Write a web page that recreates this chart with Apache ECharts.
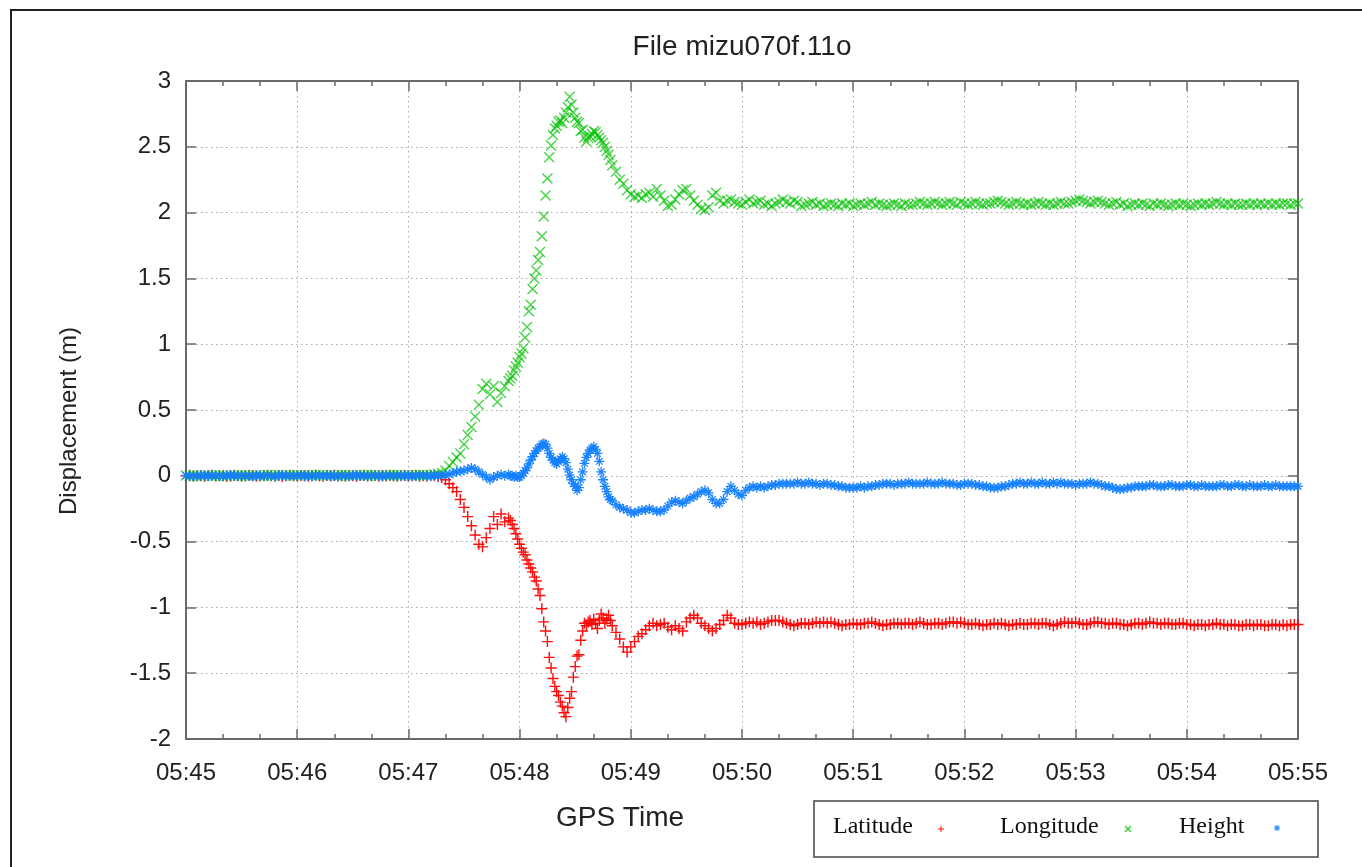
<!DOCTYPE html>
<html><head><meta charset="utf-8">
<script src="https://cdn.jsdelivr.net/npm/echarts@6/dist/echarts.min.js"></script>
<style>html,body{margin:0;padding:0;background:#fff}#c{width:1362px;height:867px}</style>
</head><body><div id="c"></div>
<script>
// sample times, seconds after 05:45:00
const seconds = [
0,2,4,6,8,10,12,14,16,18,
20,22,24,26,28,30,32,34,36,38,
40,42,44,46,48,50,52,54,56,58,
60,62,64,66,68,70,72,74,76,78,
80,82,84,86,88,90,92,94,96,98,
100,102,104,106,108,110,112,114,116,118,
120,122,124,126,128,130,132,134,136,138,
140,142,144,146,148,150,152,154,156,158,
160,162,164,166,168,170,172,174,
175,176,177,178,179,180,181,182,183,184,
185,186,187,188,189,190,191,192,193,194,
195,196,197,198,199,200,201,202,203,204,
205,206,207,208,209,210,211,212,213,214,
215,216,217,218,219,220,221,222,223,224,
225,226,227,228,229,230,
232,234,236,
238,240,242,244,246,248,250,252,254,256,
258,260,262,264,266,268,270,272,274,276,
278,280,282,284,286,288,290,292,294,296,
298,300,302,304,306,308,310,312,314,316,
318,320,322,324,326,328,330,332,334,336,
338,340,342,344,346,348,350,352,354,356,
358,360,362,364,366,368,370,372,374,376,
378,380,382,384,386,388,390,392,394,396,
398,400,402,404,406,408,410,412,414,416,
418,420,422,424,426,428,430,432,434,436,
438,440,442,444,446,448,450,452,454,456,
458,460,462,464,466,468,470,472,474,476,
478,480,482,484,486,488,490,492,494,496,
498,500,502,504,506,508,510,512,514,516,
518,520,522,524,526,528,530,532,534,536,
538,540,542,544,546,548,550,552,554,556,
558,560,562,564,566,568,570,572,574,576,
578,580,582,584,586,588,590,592,594,596,
598,600];

const latitude = [
0,0.004,-0.003,0.002,0,-0.004,0.003,0.005,-0.002,0,
0.003,-0.005,-0.002,0.004,0.001,-0.003,0,0.004,0.002,-0.004,
-0.001,0.003,0.005,0,-0.003,0.002,-0.005,0.001,0.004,0,
-0.002,0.003,0,-0.004,0.002,0.005,-0.001,-0.003,0.002,0,
0.004,-0.002,0.001,-0.004,0.003,0,-0.003,0.002,0.004,-0.001,
0,0.003,-0.004,0.002,-0.002,0.004,0,-0.003,0.001,0.003,
-0.002,0,0.004,-0.003,0.001,-0.004,0.002,0,
-0.005,-0.012,-0.03,-0.06,-0.09,-0.12,-0.18,-0.24,-0.31,-0.38,
-0.45,-0.52,-0.54,-0.47,-0.40,-0.31,-0.37,-0.29,-0.35,-0.32,
-0.34,-0.37,-0.40,-0.44,-0.48,-0.52,-0.55,-0.58,-0.60,-0.64,
-0.67,-0.70,-0.73,-0.77,-0.80,-0.86,-0.91,-1.01,-1.11,-1.18,
-1.26,-1.38,-1.46,-1.54,-1.60,-1.64,-1.67,-1.72,-1.75,-1.80,
-1.83,-1.76,-1.69,-1.64,-1.53,-1.45,-1.37,-1.36,-1.25,-1.18,
-1.12,-1.14,-1.11,-1.10,-1.13,-1.09,-1.12,-1.16,-1.10,-1.05,
-1.08,-1.12,-1.09,-1.06,-1.10,-1.14,
-1.19,-1.24,-1.30,
-1.34,-1.30,-1.26,-1.22,-1.20,-1.17,-1.14,-1.12,-1.14,-1.13,
-1.12,-1.15,-1.17,-1.14,-1.16,-1.18,-1.11,-1.08,-1.06,-1.08,
-1.12,-1.14,-1.16,-1.18,-1.16,-1.13,-1.10,-1.06,-1.08,-1.12,
-1.13,-1.13,-1.12,-1.11,-1.12,-1.11,-1.13,-1.12,-1.11,-1.10,
-1.10,-1.10,-1.11,-1.12,-1.13,-1.14,-1.13,-1.12,-1.12,-1.13,
-1.12,-1.11,-1.12,-1.11,-1.12,-1.11,-1.12,-1.13,-1.14,-1.13,
-1.13,-1.12,-1.13,-1.13,-1.12,-1.12,-1.11,-1.12,-1.13,-1.14,
-1.13,-1.13,-1.12,-1.12,-1.13,-1.12,-1.12,-1.13,-1.12,-1.11,
-1.12,-1.13,-1.13,-1.12,-1.12,-1.13,-1.12,-1.11,-1.11,-1.12,
-1.11,-1.12,-1.13,-1.13,-1.12,-1.13,-1.14,-1.13,-1.13,-1.12,
-1.13,-1.12,-1.13,-1.14,-1.13,-1.13,-1.12,-1.13,-1.13,-1.12,
-1.12,-1.13,-1.12,-1.12,-1.13,-1.14,-1.13,-1.12,-1.11,-1.12,
-1.12,-1.11,-1.12,-1.13,-1.13,-1.12,-1.11,-1.11,-1.12,-1.12,
-1.13,-1.12,-1.12,-1.13,-1.13,-1.14,-1.13,-1.12,-1.12,-1.13,
-1.12,-1.11,-1.12,-1.12,-1.13,-1.12,-1.12,-1.13,-1.13,-1.12,
-1.12,-1.13,-1.13,-1.14,-1.13,-1.13,-1.14,-1.13,-1.13,-1.12,
-1.13,-1.13,-1.14,-1.13,-1.13,-1.14,-1.14,-1.13,-1.13,-1.14,
-1.13,-1.13,-1.14,-1.14,-1.13,-1.13,-1.14,-1.13,-1.14,-1.13,
-1.13,-1.13];

const longitude = [
0.002,0,0.003,0.001,-0.002,0.002,0.004,0,0.001,0.003,
0.002,-0.001,0.003,0.004,0.002,0,0.003,0.005,0.002,0.004,
0.003,0.001,0.005,0.003,0.004,0.006,0.002,0.004,0.005,0.003,
0.005,0.004,0.006,0.003,0.005,0.004,0.006,0.005,0.003,0.004,
0.005,0.003,0.006,0.004,0.005,0.003,0.004,0.006,0.004,0.003,
0.005,0.004,0.003,0.005,0.004,0.006,0.005,0.004,0.003,0.005,
0.004,0.003,0.005,0.004,0.006,0.005,
0.006,0.01,0.015,0.022,0.04,0.075,0.105,0.14,0.17,0.24,
0.31,0.37,0.45,0.54,0.66,0.70,0.62,0.68,0.56,0.63,
0.68,0.72,
0.74,0.76,0.80,0.83,0.86,0.90,0.93,0.97,1.05,1.13,
1.25,1.30,1.42,1.50,1.56,1.64,1.70,1.82,1.97,2.13,
2.26,2.42,2.51,2.59,2.64,2.66,2.69,2.70,2.68,2.72,
2.76,2.80,2.88,2.82,2.76,2.72,2.69,2.68,2.62,2.63,
2.57,2.54,2.57,2.58,2.60,2.62,2.61,2.59,2.57,2.55,
2.53,2.50,2.47,2.44,2.40,2.36,
2.31,2.25,2.22,
2.17,2.14,2.12,2.13,2.11,2.14,2.15,2.12,2.18,2.13,
2.09,2.05,2.06,2.10,2.14,2.17,2.18,2.13,2.09,2.06,
2.03,2.02,2.04,2.13,2.15,2.09,2.07,2.09,2.10,2.08,
2.07,2.06,2.08,2.10,2.07,2.08,2.09,2.06,2.07,2.05,
2.07,2.08,2.10,2.08,2.07,2.09,2.08,2.05,2.06,2.07,
2.08,2.06,2.07,2.05,2.06,2.07,2.06,2.05,2.07,2.06,
2.07,2.05,2.06,2.07,2.06,2.07,2.08,2.06,2.07,2.06,
2.05,2.06,2.07,2.06,2.05,2.07,2.06,2.06,2.07,2.08,
2.07,2.06,2.07,2.08,2.07,2.06,2.07,2.08,2.07,2.06,
2.08,2.07,2.06,2.07,2.08,2.07,2.06,2.07,2.07,2.08,
2.09,2.08,2.07,2.06,2.07,2.08,2.07,2.06,2.07,2.06,
2.07,2.08,2.07,2.06,2.07,2.06,2.07,2.08,2.07,2.07,
2.08,2.09,2.10,2.09,2.08,2.07,2.08,2.09,2.08,2.07,
2.06,2.07,2.08,2.06,2.07,2.05,2.06,2.07,2.06,2.07,
2.06,2.05,2.07,2.06,2.07,2.06,2.05,2.06,2.07,2.06,
2.07,2.06,2.05,2.06,2.07,2.06,2.07,2.06,2.07,2.08,
2.07,2.06,2.07,2.06,2.07,2.06,2.06,2.07,2.06,2.07,
2.06,2.07,2.06,2.07,2.06,2.07,2.06,2.07,2.07,2.06,
2.07,2.07];

const height = [
0.003,-0.004,0.002,-0.006,0.004,0.001,-0.003,0.005,-0.002,0.002,
-0.005,0.003,0.006,-0.002,0,0.004,-0.004,0.002,-0.006,0.003,
0.001,-0.003,0.005,-0.001,-0.005,0.002,0.004,-0.002,0.003,-0.004,
0,0.005,-0.003,0.002,-0.005,0.003,0.001,-0.002,0.004,-0.003,
0.002,-0.006,0.004,0,-0.004,0.003,0.005,-0.002,0.001,-0.003,
0.004,-0.001,0.002,-0.005,0.003,0,-0.003,0.004,0.002,-0.002,
0.003,-0.004,0.001,0.004,-0.002,0.002,-0.003,0.003,0.001,0.004,0.006,
0.01,0.02,0.03,0.035,0.04,0.05,0.06,0.05,0.03,0.01,
-0.01,-0.03,-0.01,0.00,0.01,0.00,0.01,
0.00,0.00,-0.01,0.00,-0.01,-0.01,0.00,0.02,0.04,0.06,
0.09,0.12,0.145,0.17,0.19,0.21,0.22,0.24,0.245,0.24,
0.21,0.17,0.14,0.12,0.10,0.09,0.11,0.13,0.145,0.13,
0.10,0.05,0.005,-0.03,-0.06,-0.08,-0.11,-0.09,-0.03,0.03,
0.095,0.14,0.17,0.196,0.21,0.22,0.20,0.17,0.11,0.03,
-0.03,-0.08,-0.12,-0.16,-0.18,-0.19,
-0.22,-0.24,-0.25,
-0.26,-0.28,-0.28,-0.27,-0.26,-0.26,-0.25,-0.26,-0.27,-0.27,
-0.26,-0.23,-0.20,-0.19,-0.20,-0.21,-0.19,-0.17,-0.16,-0.14,
-0.12,-0.11,-0.13,-0.18,-0.21,-0.21,-0.18,-0.12,-0.08,-0.11,
-0.14,-0.15,-0.11,-0.09,-0.08,-0.09,-0.08,-0.09,-0.08,-0.07,
-0.07,-0.06,-0.06,-0.06,-0.06,-0.06,-0.05,-0.06,-0.06,-0.05,
-0.06,-0.06,-0.07,-0.06,-0.06,-0.07,-0.07,-0.08,-0.08,-0.09,
-0.09,-0.09,-0.09,-0.08,-0.09,-0.08,-0.08,-0.07,-0.07,-0.06,
-0.06,-0.06,-0.07,-0.06,-0.06,-0.06,-0.05,-0.06,-0.06,-0.06,
-0.06,-0.05,-0.06,-0.06,-0.06,-0.05,-0.06,-0.06,-0.06,-0.07,
-0.07,-0.06,-0.06,-0.06,-0.07,-0.07,-0.08,-0.08,-0.09,-0.09,
-0.09,-0.08,-0.08,-0.07,-0.06,-0.06,-0.05,-0.06,-0.06,-0.05,
-0.06,-0.06,-0.05,-0.06,-0.06,-0.05,-0.06,-0.05,-0.06,-0.06,
-0.06,-0.07,-0.06,-0.06,-0.06,-0.05,-0.06,-0.06,-0.07,-0.08,
-0.08,-0.09,-0.10,-0.10,-0.10,-0.09,-0.09,-0.08,-0.08,-0.08,
-0.08,-0.07,-0.07,-0.08,-0.08,-0.08,-0.07,-0.07,-0.08,-0.08,
-0.08,-0.07,-0.07,-0.08,-0.08,-0.07,-0.08,-0.08,-0.08,-0.08,
-0.07,-0.07,-0.08,-0.08,-0.07,-0.07,-0.08,-0.08,-0.07,-0.08,
-0.08,-0.08,-0.07,-0.08,-0.08,-0.07,-0.08,-0.08,-0.08,-0.08,
-0.08,-0.08];

const xTickLabels = ['05:45','05:46','05:47','05:48','05:49','05:50','05:51','05:52','05:53','05:54','05:55'];
const seriesNames = ['Latitude','Longitude','Height'];
const seriesColors = ['#ff0000','#00c000','#1480ff'];

if (latitude.length !== seconds.length || longitude.length !== seconds.length || height.length !== seconds.length) {
  console.error('length mismatch', seconds.length, latitude.length, longitude.length, height.length);
}

const PLUS = 'M4.35,0H5.65V10H4.35Z M0,4.35H10V5.65H0Z';
const CROSS = 'M0,0.92L0.92,0L10,9.08L9.08,10Z M9.08,0L10,0.92L0.92,10L0,9.08Z';
const STAR = 'M4.35,0H5.65V10H4.35Z M0,4.35H10V5.65H0Z M1.2,2.1L2.1,1.2L8.8,7.9L7.9,8.8Z M7.9,1.2L8.8,2.1L2.1,8.8L1.2,7.9Z';
const symbols = [PLUS, CROSS, STAR];
const symbolSizes = [11, 11, 10];

const pair = arr => seconds.map((t, i) => [t, arr[i]]);

const chart = echarts.init(document.getElementById('c'), null, {renderer: 'canvas'});
const sansFont = '"Liberation Sans", Arial, Helvetica, sans-serif';
const serifFont = '"Liberation Serif", "Times New Roman", serif';
const axisColor = '#6a6a6a';

const frameX = {
  type: 'value', min: 0, max: 600, interval: 60,
  axisLine: {show: true, onZero: false, lineStyle: {color: axisColor, width: 2}},
  axisTick: {show: true, inside: true, length: 10, lineStyle: {color: axisColor, width: 1.5}},
  minorTick: {show: true, splitNumber: 3, length: 5, lineStyle: {color: axisColor, width: 1.5}},
};
const frameY = {
  type: 'value', min: -2, max: 3, interval: 0.5,
  axisLine: {show: true, onZero: false, lineStyle: {color: axisColor, width: 2}},
  axisTick: {show: true, inside: true, length: 10, lineStyle: {color: axisColor, width: 1.5}},
};

// small legend marks, built from short line segments
function legendMark(cx, cy, kind, color) {
  const r = 3;
  const segs = [];
  if (kind === 0 || kind === 2) {
    segs.push([cx - r, cy, cx + r, cy], [cx, cy - r, cx, cy + r]);
  }
  if (kind === 1 || kind === 2) {
    const d = kind === 2 ? 2.3 : r;
    segs.push([cx - d, cy - d, cx + d, cy + d], [cx - d, cy + d, cx + d, cy - d]);
  }
  return {
    type: 'group', silent: true,
    children: segs.map(s => ({
      type: 'line', silent: true,
      shape: {x1: s[0], y1: s[1], x2: s[2], y2: s[3]},
      style: {stroke: color, lineWidth: 1.2, opacity: 0.8}
    }))
  };
}

const option = {
  animation: false,
  backgroundColor: '#ffffff',
  grid: {left: 186, top: 81, width: 1112, height: 658, containLabel: false},
  xAxis: [
    Object.assign({}, frameX, {
      position: 'bottom',
      axisLabel: {show: true, margin: 22, color: '#222', fontSize: 24, fontFamily: sansFont,
        formatter: v => xTickLabels[Math.round(v / 60)]},
      splitLine: {show: true, lineStyle: {color: '#a8a8a8', width: 1, type: [1.5, 3.5]}},
    }),
    Object.assign({}, frameX, {
      position: 'top',
      axisLabel: {show: false},
      splitLine: {show: false},
    })
  ],
  yAxis: [
    Object.assign({}, frameY, {
      position: 'left',
      name: 'Displacement (m)', nameLocation: 'middle', nameGap: 105, nameRotate: 90,
      nameTextStyle: {color: '#222', fontSize: 24, fontFamily: sansFont, padding: [0, 22, 0, 0]},
      axisLabel: {show: true, margin: 15, color: '#222', fontSize: 24, fontFamily: sansFont},
      splitLine: {show: true, lineStyle: {color: '#a8a8a8', width: 1, type: [1.5, 3.5]}},
    }),
    Object.assign({}, frameY, {
      position: 'right',
      axisLabel: {show: false},
      splitLine: {show: false},
    })
  ],
  series: [latitude, longitude, height].map((arr, k) => ({
    name: seriesNames[k],
    type: 'scatter',
    xAxisIndex: 0, yAxisIndex: 0,
    data: pair(arr),
    symbol: 'path://' + symbols[k],
    symbolSize: symbolSizes[k],
    silent: true,
    emphasis: {disabled: true},
    itemStyle: {color: seriesColors[k], opacity: k === 1 ? 0.7 : 0.95},
    z: 2 + k
  })),
  graphic: [
    {type: 'rect', silent: true, z: -10, shape: {x: 11, y: 10, width: 1400, height: 900},
      style: {fill: 'none', stroke: '#222', lineWidth: 2}},
    {type: 'text', silent: true, x: 742, y: 47,
      style: {text: 'File mizu070f.11o', fill: '#222', font: '28px ' + sansFont, textAlign: 'center', textVerticalAlign: 'middle'}},
    {type: 'text', silent: true, x: 620, y: 818,
      style: {text: 'GPS Time', fill: '#222', font: '28px ' + sansFont, textAlign: 'center', textVerticalAlign: 'middle'}},
    {type: 'rect', silent: true, shape: {x: 814, y: 801, width: 504, height: 56},
      style: {fill: '#fff', stroke: '#444', lineWidth: 1.5}},
    {type: 'text', silent: true, x: 833, y: 827,
      style: {text: seriesNames[0], fill: '#111', font: '24px ' + serifFont, textAlign: 'left', textVerticalAlign: 'middle'}},
    {type: 'text', silent: true, x: 1000, y: 827,
      style: {text: seriesNames[1], fill: '#111', font: '24px ' + serifFont, textAlign: 'left', textVerticalAlign: 'middle'}},
    {type: 'text', silent: true, x: 1179, y: 827,
      style: {text: seriesNames[2], fill: '#111', font: '24px ' + serifFont, textAlign: 'left', textVerticalAlign: 'middle'}},
    legendMark(941, 829, 0, seriesColors[0]),
    legendMark(1128, 829, 1, seriesColors[1]),
    legendMark(1277, 828, 2, seriesColors[2])
  ]
};
chart.setOption(option);
</script>
</body></html>
